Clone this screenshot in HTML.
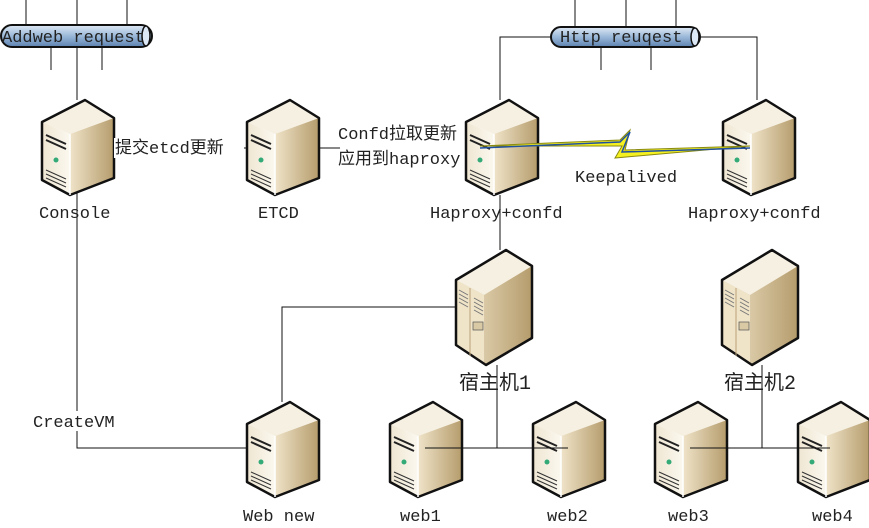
<!DOCTYPE html>
<html><head><meta charset="utf-8"><style>
html,body{margin:0;padding:0;background:#fff;width:869px;height:528px;overflow:hidden}
text{font-family:"Liberation Mono","Noto Sans CJK SC",monospace;font-size:17px;fill:#222}
</style></head><body>
<svg width="869" height="528" viewBox="0 0 869 528" xmlns="http://www.w3.org/2000/svg">
<defs>
<linearGradient id="pipe" x1="0" y1="0" x2="0" y2="1"><stop offset="0" stop-color="#dfe9f5"/><stop offset="0.5" stop-color="#9ab8d8"/><stop offset="1" stop-color="#5d82b0"/></linearGradient>
<linearGradient id="side" x1="0" y1="0" x2="1" y2="0"><stop offset="0" stop-color="#efe3c8"/><stop offset="1" stop-color="#b59c6c"/></linearGradient>
<linearGradient id="front" x1="0" y1="0" x2="1" y2="0"><stop offset="0" stop-color="#efe6d2"/><stop offset="1" stop-color="#fbf8ef"/></linearGradient>
<g id="srv">
<polygon points="0,22 43,0 72,18 28,34" fill="#f6f0e2"/>
<polygon points="0,22 28,34 28,95 0,80" fill="url(#front)"/>
<polygon points="28,34 72,18 72,78 28,95" fill="url(#side)"/>
<polygon points="0,22 43,0 72,18 72,78 28,95 0,80" fill="none" stroke="#111" stroke-width="2.5" stroke-linejoin="round"/>
<line x1="28" y1="34" x2="28" y2="95" stroke="#fff" stroke-width="1.5"/>
<path d="M4,35 L24,44 M4,40 L24,49" stroke="#222" stroke-width="2"/>
<circle cx="14" cy="60" r="2.5" fill="#3a7"/>
<path d="M4,70 L24,79 M4,74 L24,83 M4,78 L24,87" stroke="#333" stroke-width="1"/>
</g>
<g id="rack">
<polygon points="0,30 50,0 76,16 76,88 30,115 0,95" fill="url(#side)"/>
<polygon points="0,30 50,0 76,16 28,45" fill="#f6f0e2"/>
<polygon points="0,30 28,45 28,115 0,95" fill="#efe3c8"/>
<polygon points="0,30 50,0 76,16 76,88 30,115 0,95" fill="none" stroke="#111" stroke-width="2.5" stroke-linejoin="round"/>
<line x1="14" y1="38" x2="14" y2="106" stroke="#b9a27a"/>
<path d="M3,40 L12,45 M3,44 L12,49 M3,48 L12,53 M3,52 L12,57 M18,48 L27,53 M18,52 L27,57 M18,56 L27,61 M18,60 L27,65" stroke="#777" stroke-width="1"/>
<rect x="17" y="72" width="10" height="8" fill="#d9c9a5" stroke="#555" stroke-width="0.7"/>
</g>
</defs>
<g stroke="#111" stroke-width="1" fill="none">
<path d="M26,0V25 M77,0V100 M127,0V25 M51,47V70 M102,47V70"/>
<path d="M575,0V27 M626,0V27 M676,0V27 M601,47V70 M651,47V70"/>
<path d="M500,100V37H551 M700,37H757V100"/>
<path d="M77,193V448H280"/>
<path d="M112,148H247 M317,148H340"/>
<path d="M500,195V250"/>
<path d="M282,402V307H456"/>
<path d="M497,365V448"/>
<path d="M762,365V448"/>
</g>
<rect x="1" y="25" width="151" height="22" rx="11" fill="url(#pipe)" stroke="#111" stroke-width="2"/>
<ellipse cx="146" cy="36" rx="4" ry="10" fill="#dde8f6" stroke="#111" stroke-width="1.5"/>
<rect x="551" y="27" width="149" height="20" rx="10" fill="url(#pipe)" stroke="#111" stroke-width="2"/>
<ellipse cx="695" cy="37" rx="4" ry="9" fill="#dde8f6" stroke="#111" stroke-width="1.5"/>
<text x="2" y="42">Addweb request</text>
<text x="560" y="42">Http reuqest</text>
<use href="#srv" x="42" y="100"/>
<use href="#srv" x="247" y="100"/>
<use href="#srv" x="466" y="100"/>
<use href="#srv" x="723" y="100"/>
<use href="#srv" x="247" y="402"/>
<use href="#srv" x="390" y="402"/>
<use href="#srv" x="533" y="402"/>
<use href="#srv" x="655" y="402"/>
<use href="#srv" x="798" y="402"/>
<use href="#rack" x="456" y="250"/>
<use href="#rack" x="722" y="250"/>
<g stroke="#111" stroke-width="1" fill="none">
<path d="M425,448H568 M690,448H830"/>
</g>
<polygon points="480,146 620,140 630,130 625,150 750,146 615,158 622,146" fill="#f5f020" stroke="#8a8a10" stroke-width="1"/>
<path d="M480,148 L620,142 L630,132 L622,152 L750,148" stroke="#2050a0" stroke-width="1.5" fill="none"/>
<rect x="114" y="138" width="130" height="20" fill="#fff"/>
<text x="115" y="153">提交etcd更新</text>
<text x="338" y="139">Confd拉取更新</text>
<text x="338" y="164">应用到haproxy</text>
<text x="575" y="182">Keepalived</text>
<text x="39" y="218">Console</text>
<text x="258" y="218">ETCD</text>
<text x="430" y="218">Haproxy+confd</text>
<text x="688" y="218">Haproxy+confd</text>
<text x="459" y="389" style="font-size:20px">宿主机1</text>
<text x="724" y="389" style="font-size:20px">宿主机2</text>
<rect x="32" y="411" width="90" height="20" fill="#fff"/>
<text x="33" y="427">CreateVM</text>
<text x="243" y="521">Web new</text>
<text x="400" y="521">web1</text>
<text x="547" y="521">web2</text>
<text x="668" y="521">web3</text>
<text x="812" y="521">web4</text>
</svg>
</body></html>
